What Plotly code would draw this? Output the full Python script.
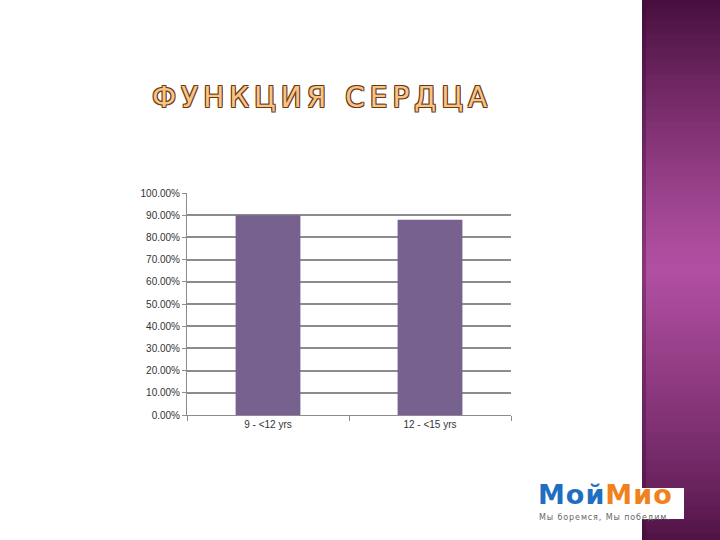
import plotly.graph_objects as go

categories = ["9 - <12 yrs", "12 - <15 yrs"]
values = [0.90, 0.88]
tick_vals = [i / 10 for i in range(11)]
tick_text = [f"{v*100:.2f}%" for v in tick_vals]
title_text = "ФУНКЦИЯ СЕРДЦА"
logo_left = "Мой"
logo_right = "Мио"
logo_sub = "Мы боремся, Мы победим."

L, T, PW, PH = 187, 193, 324, 222
W, H = 720, 540

def px(x):
    return (x - L) / PW

def py(y):
    return (T + PH - y) / PH

fig = go.Figure()
fig.add_trace(go.Bar(x=categories, y=values, marker=dict(color="#77618f", line=dict(width=0)),
                     width=0.4))

shapes = []
n = 80
def lerp(a, b, t):
    return tuple(int(a[i] + (b[i] - a[i]) * t) for i in range(3))
top = (72, 16, 62)
mid = (178, 80, 162)
bot = (78, 18, 68)
for i in range(n):
    t0 = i / n
    t1 = (i + 1) / n
    tm = (t0 + t1) / 2  # fraction from bottom
    if tm < 0.5:
        c = lerp(bot, mid, (tm / 0.5) ** 0.8)
    else:
        c = lerp(mid, top, ((tm - 0.5) / 0.5) ** 1.2)
    y0 = 540 - t0 * 540
    y1 = 540 - t1 * 540
    shapes.append(dict(type="rect", xref="paper", yref="paper",
                       x0=px(642), x1=px(730),
                       y0=py(y0), y1=py(y1) + 0.003,
                       fillcolor=f"rgb{c}", line=dict(width=0), layer="below"))
shapes.append(dict(type="rect", xref="paper", yref="paper",
                   x0=px(642), x1=px(646), y0=py(548), y1=py(-8),
                   fillcolor="rgba(60,10,50,0.35)", line=dict(width=0), layer="below"))
# logo box
shapes.append(dict(type="rect", xref="paper", yref="paper",
                   x0=px(525), x1=px(684), y0=py(519), y1=py(488),
                   fillcolor="white", line=dict(width=0), layer="above"))

annotations = [
    dict(text=f"<span style='letter-spacing:5px'>{title_text}</span>", xref="paper", yref="paper",
         x=px(322), y=py(97), showarrow=False,
         xanchor="center", yanchor="middle",
         font=dict(family="DejaVu Sans", size=28, color="#f7c486",
                   shadow="1px 1px 0 #6a3a18, -1px -1px 0 #6a3a18, 1px -1px 0 #6a3a18, -1px 1px 0 #6a3a18")),
    dict(text=f"<b><span style='letter-spacing:1px'><span style='color:#1e6fc2'>{logo_left}</span><span style='color:#f0821e'>{logo_right}</span></span></b>",
         xref="paper", yref="paper", x=px(605), y=py(511),
         showarrow=False, xanchor="center", yanchor="bottom", borderpad=0,
         font=dict(family="DejaVu Sans", size=27)),
    dict(text=f"<span style='letter-spacing:0.9px'>{logo_sub}</span>", xref="paper", yref="paper",
         x=px(605), y=py(511.5),
         showarrow=False, xanchor="center", yanchor="top", borderpad=0,
         font=dict(family="DejaVu Sans", size=8, color="#666666")),
]

fig.update_layout(
    width=W, height=H,
    margin=dict(l=L, r=W - L - PW, t=T, b=H - T - PH),
    paper_bgcolor="white", plot_bgcolor="white",
    showlegend=False,
    shapes=shapes, annotations=annotations,
)
fig.update_yaxes(range=[0, 1], tickvals=tick_vals, ticktext=tick_text,
                 showgrid=True, gridcolor="#8c8c8c", gridwidth=1.5,
                 showline=True, linecolor="#8c8c8c", linewidth=1,
                 ticks="outside", ticklen=4, tickcolor="#8c8c8c",
                 tickfont=dict(family="Liberation Sans", size=10, color="#333333"),
                 zeroline=False, fixedrange=True)
fig.update_xaxes(showline=True, linecolor="#8c8c8c", linewidth=1,
                 ticks="outside", tickson="boundaries", ticklen=5, tickcolor="#8c8c8c",
                 tickfont=dict(family="Liberation Sans", size=10, color="#333333"),
                 fixedrange=True)

fig.write_html("out.html", config={"displayModeBar": False},
               post_script="document.body.style.margin='0';")
